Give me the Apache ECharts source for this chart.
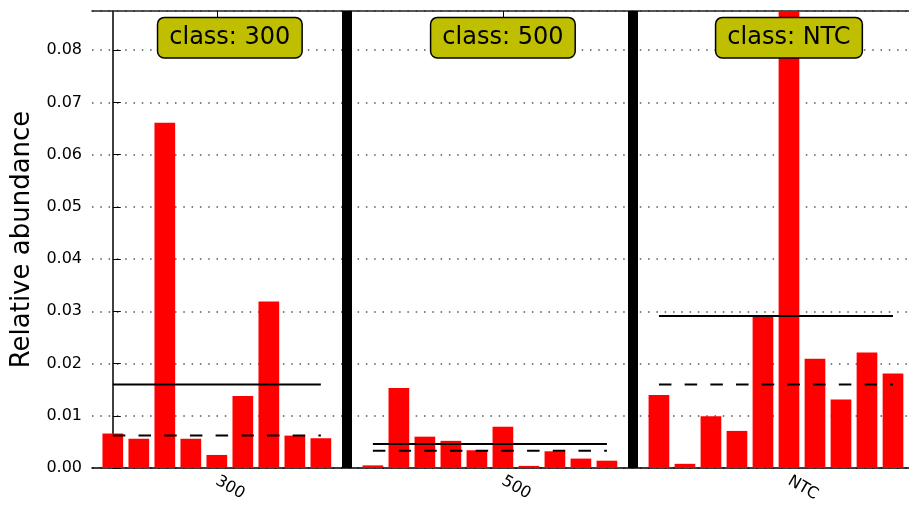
<!DOCTYPE html>
<html>
<head>
<meta charset="utf-8">
<script src="https://cdn.jsdelivr.net/npm/echarts@6/dist/echarts.min.js"></script>
<style>
  html, body { margin: 0; padding: 0; background: #fff; }
  #chart { width: 909px; height: 505px; }
</style>
</head>
<body>
<div id="chart"></div>
<script>
// Relative abundance per sample, grouped by class
var classes = ['300', '500', 'NTC'];
var vals300 = [0.0066, 0.0056, 0.0661, 0.0056, 0.0025, 0.0138, 0.0319, 0.0062, 0.0057];
var vals500 = [0.0005, 0.0153, 0.0060, 0.0052, 0.0034, 0.0079, 0.0004, 0.0032, 0.0018, 0.0014];
var valsNTC = [0.0140, 0.0008, 0.0099, 0.0071, 0.0290, 0.1560, 0.0209, 0.0131, 0.0221, 0.0181];
// solid line = mean, dashed line = median
var means = [0.0160, 0.0046, 0.0291];
var medians = [0.0062, 0.0033, 0.0160];
var yTicks = [0, 0.01, 0.02, 0.03, 0.04, 0.05, 0.06, 0.07, 0.08];

document.addEventListener('DOMContentLoaded', function() {
  var groups = [vals300, vals500, valsNTC];
  var font = 'DejaVu Sans';

  // lay the groups out one slot apart, with an empty slot for the divider
  var barData = [];
  var tickSlots = [];
  var boxSlots = [];
  var dividers = [];
  var lineSeries = [];
  var start = 0;
  groups.forEach(function(vals, g) {
    vals.forEach(function(v, i) {
      barData.push([start + i, v]);
    });
    tickSlots.push(start + Math.floor(vals.length / 2));
    boxSlots.push(start + vals.length / 2);
    var end = start + vals.length - 1;
    lineSeries.push({
      type: 'line', z: 5, symbol: 'none', silent: true,
      data: [[start, means[g]], [end, means[g]]],
      lineStyle: { color: '#000', width: 2 }
    });
    lineSeries.push({
      type: 'line', z: 5, symbol: 'none', silent: true,
      data: [[start, medians[g]], [end, medians[g]]],
      lineStyle: { color: '#000', width: 2, type: [12.5, 13.2] }
    });
    if (g < groups.length - 1) dividers.push({ xAxis: start + vals.length });
    start += vals.length + 1;
  });

  var boxData = classes.map(function(c, g) {
    return { value: [boxSlots[g], 0.0824], name: 'class: ' + c };
  });

  var chart = echarts.init(document.getElementById('chart'), null, { renderer: 'canvas' });

  var option = {
    animation: false,
    backgroundColor: '#fff',
    grid: { left: 92, top: 11, width: 840, height: 457, outerBoundsMode: 'none', containLabel: false },
    xAxis: [{
      type: 'value', min: -0.8, max: 31.5,
      axisLine: { show: true, lineStyle: { color: '#000', width: 1.5 } },
      axisTick: { show: true, inside: true, length: 7, customValues: tickSlots,
        lineStyle: { color: '#000', width: 1 } },
      axisLabel: {
        customValues: tickSlots, rotate: -30, margin: 12,
        fontFamily: font, fontSize: 16, color: '#000',
        formatter: function(v) { return classes[tickSlots.indexOf(v)]; }
      },
      splitLine: { show: false }
    }, {
      type: 'value', position: 'top', min: -0.8, max: 31.5,
      axisLine: { show: true, onZero: false, lineStyle: { color: '#222', width: 1.5 } },
      axisTick: { show: true, inside: true, length: 6, customValues: tickSlots,
        lineStyle: { color: '#000', width: 1 } },
      axisLabel: { show: false },
      splitLine: { show: false }
    }],
    yAxis: {
      type: 'value', min: 0, max: 0.0875, interval: 0.01,
      name: 'Relative abundance', nameLocation: 'middle', nameGap: 52,
      nameTextStyle: { fontFamily: font, fontSize: 26, color: '#000' },
      axisLine: { show: true, lineStyle: { color: '#000', width: 1.5 } },
      axisTick: { show: true, inside: true, length: 8, lineStyle: { color: '#000' } },
      axisLabel: {
        margin: 10, fontFamily: font, fontSize: 16, color: '#000', showMaxLabel: false,
        formatter: function(v) { return yTicks.indexOf(Math.round(v * 100) / 100) >= 0 ? v.toFixed(2) : ''; }
      },
      splitLine: { show: true, lineStyle: { color: '#555', width: 1.5, type: [1.5, 6.8] } }
    },
    series: [{
      type: 'bar', barWidth: 20.7, z: 2,
      itemStyle: { color: '#ff0000' },
      data: barData,
      markLine: {
        silent: true, symbol: 'none', label: { show: false },
        lineStyle: { color: '#000', width: 10, type: 'solid' },
        data: dividers
      }
    }].concat(lineSeries).concat([{
      type: 'scatter', z: 10, symbolSize: 0, silent: true,
      itemStyle: { opacity: 1 },
      data: boxData,
      label: {
        show: true, position: 'inside', opacity: 1,
        formatter: function(p) { return p.name; },
        fontFamily: font, fontSize: 24, lineHeight: 29, color: '#000',
        backgroundColor: '#bfbf00', borderColor: '#000', borderWidth: 1.5,
        borderRadius: 6, padding: [5, 11]
      }
    }])
  };

  chart.setOption(option);
});
</script>
</body>
</html>
